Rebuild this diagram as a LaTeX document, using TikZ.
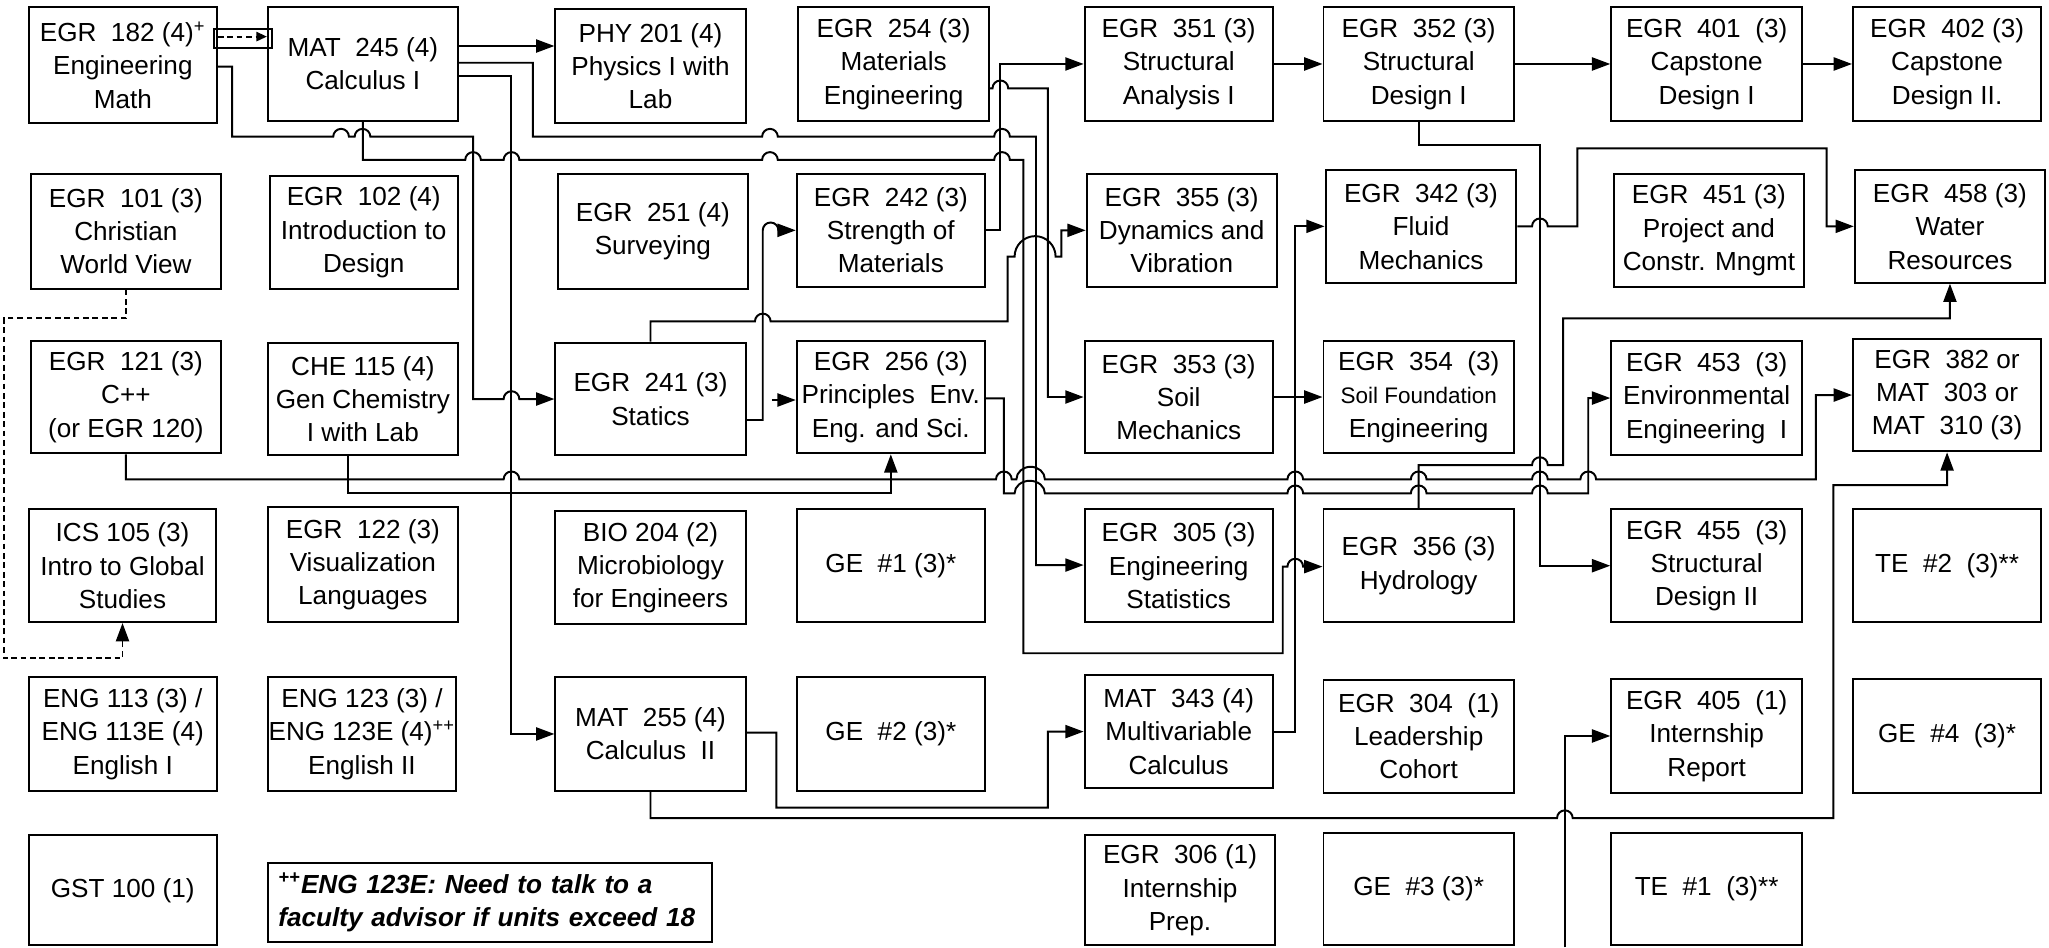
\documentclass[tikz,border=0pt]{standalone}
\usepackage{fontspec}
\setmainfont{Liberation Sans}
\usetikzlibrary{arrows.meta}
\newcommand\hop[2]{-- ({#1-6},#2) arc[start angle=180,end angle=0,radius=3pt]}
\newcommand\bx[6]{\node[box,minimum width={(#4-#2)*0.5pt},minimum height={(#5-#3)*0.5pt}] (#1) at ({(#2+#4)/2},{(#3+#5)/2}) {#6};}
\tikzset{
  box/.style={draw, line width=0.75pt, align=center, inner sep=0pt, font=\fontsize{10}{12.75}\selectfont},
  ln/.style={line width=0.75pt},
  arr/.style={ln, -{Triangle[length=7pt,width=5pt]}},
  dsh/.style={ln, dash pattern=on 2.2pt off 1.4pt},
}
\begin{document}
\begin{tikzpicture}[x=0.5pt,y=-0.5pt]
\useasboundingbox (0,0) rectangle (1568,725);
% row 1
\bx{e182}{22}{5.6}{166}{93.9}{EGR~~182 (4)\textsuperscript{+}\\Engineering\\Math}
\bx{m245}{205}{5.6}{350.4}{92.3}{MAT~~245 (4)\\Calculus I}
\bx{p201}{425}{7.1}{570.6}{93.9}{PHY 201 (4)\\Physics I with\\Lab}
\bx{e254}{611}{5.6}{756.7}{92.3}{EGR~~254 (3)\\Materials\\Engineering}
\bx{e351}{830}{5.6}{974}{92.3}{EGR~~351 (3)\\Structural\\Analysis I}
\bx{e352}{1012.8}{5.6}{1158.5}{92.3}{EGR~~352 (3)\\Structural\\Design I}
\bx{e401}{1233}{5.6}{1379}{92.3}{EGR~~401~~(3)\\Capstone\\Design I}
\bx{e402}{1418}{5.6}{1562}{92.3}{EGR~~402 (3)\\Capstone\\Design II.}
% row 2
\bx{e101}{23.8}{133.1}{168.9}{220.9}{EGR~~101 (3)\\Christian\\World View}
\bx{e102}{206.3}{134.7}{350.4}{220.9}{EGR~~102 (4)\\Introduction to\\Design}
\bx{e251}{426.9}{133.1}{572.3}{220.9}{EGR~~251 (4)\\Surveying}
\bx{e242}{609.7}{133.1}{753.7}{219.4}{EGR~~242 (3)\\Strength of\\Materials}
\bx{e355}{831.6}{133.1}{977}{219.4}{EGR~~355 (3)\\Dynamics and\\Vibration}
\bx{e342}{1014.4}{130.1}{1160.4}{216.3}{EGR~~342 (3)\\Fluid\\Mechanics}
\bx{e451}{1235}{133.1}{1380.5}{219.4}{EGR~~451 (3)\\Project and\\Constr. Mngmt}
\bx{e458}{1419.4}{130.1}{1565}{216.3}{EGR~~458 (3)\\Water\\Resources}
% row 3
\bx{e121}{23.8}{260.7}{168.9}{346.9}{EGR~~121 (3)\\C++\\(or EGR 120)}
\bx{c115}{205}{262.2}{350.4}{348.5}{CHE 115 (4)\\Gen Chemistry\\I with Lab}
\bx{e241}{425}{262.2}{570.6}{348.5}{EGR~~241 (3)\\Statics}
\bx{e256}{609.7}{260.7}{753.7}{346.9}{EGR~~256 (3)\\Principles~~Env.\\Eng. and Sci.}
\bx{e353}{830}{260.7}{974}{346.9}{EGR~~353 (3)\\Soil\\Mechanics}
\bx{e354}{1012.8}{260.7}{1158.5}{346.9}{EGR~~354~~(3)\\{\fontsize{8.6}{10}\selectfont Soil Foundation}\\Engineering}
\bx{e453}{1233}{260.7}{1379}{348.5}{EGR~~453~~(3)\\Environmental\\Engineering~~I}
\bx{e382}{1418}{259.2}{1562}{345.4}{EGR~~382 or\\MAT~~303 or\\MAT~~310 (3)}
% row 4
\bx{i105}{21.9}{389.8}{165.6}{476}{ICS 105 (3)\\Intro to Global\\Studies}
\bx{e122}{205}{388.2}{350.4}{476}{EGR~~122 (3)\\Visualization\\Languages}
\bx{b204}{425}{391.3}{570.6}{477.5}{BIO 204 (2)\\Microbiology\\for Engineers}
\bx{ge1}{609.7}{389.8}{753.7}{476}{GE~~\#1 (3)*}
\bx{e305}{830}{389.8}{974}{476}{EGR~~305 (3)\\Engineering\\Statistics}
\bx{e356}{1012.8}{389.8}{1158.5}{476}{EGR~~356 (3)\\Hydrology}
\bx{e455}{1233}{389.8}{1379}{476}{EGR~~455~~(3)\\Structural\\Design II}
\bx{te2}{1418}{389.8}{1562}{476}{TE~~\#2~~(3)**}
% row 5
\bx{n113}{21.9}{518.3}{165.9}{605}{ENG 113 (3) /\\ENG 113E (4)\\English I}
\bx{n123}{205}{518.3}{349}{605}{ENG 123 (3) /\\ENG 123E (4)\textsuperscript{++}\\English II}
\bx{m255}{425}{518.3}{570.6}{605}{MAT~~255 (4)\\Calculus~~II}
\bx{ge2}{609.7}{518.3}{753.7}{605}{GE~~\#2 (3)*}
\bx{m343}{830}{516.5}{974}{603.2}{MAT~~343 (4)\\Multivariable\\Calculus}
\bx{e304}{1012.8}{520.3}{1158.5}{606.6}{EGR~~304~~(1)\\Leadership\\Cohort}
\bx{e405}{1233}{519.8}{1379}{606.6}{EGR~~405~~(1)\\Internship\\Report}
\bx{ge4}{1418}{519.8}{1562}{606.6}{GE~~\#4~~(3)*}
% row 6
\bx{g100}{21.9}{639.2}{165.9}{723.5}{GST 100 (1)}
\bx{e306}{830}{639.2}{976}{723.5}{EGR~~306 (1)\\Internship\\Prep.}
\bx{ge3}{1012.8}{637.1}{1158.5}{723.5}{GE~~\#3 (3)*}
\bx{te1}{1233}{637.1}{1379}{723.5}{TE~~\#1~~(3)**}
\node[box, align=left, text width=161.85pt, inner xsep=4pt, minimum height=30.35pt, font=\fontsize{10}{12.5}\selectfont\bfseries\itshape] (note) at (374.85,690.45) {\textsuperscript{++}ENG 123E: Need to talk to a\\faculty advisor if units exceed 18};
% small frame round the dashed arrow
\node[draw, line width=0.75pt, minimum width=22.15pt, minimum height=7.55pt, inner sep=0pt] (dbox) at (186.15,29.45) {};
\draw[dsh,-{Triangle[length=4pt,width=3.5pt]}] (e182.east |- 0,28) -- (m245.west |- 0,28);
% connectors
\draw[arr] (m245.east |- 0,35.2) -- (p201.west |- 0,35.2);
\draw[arr] (m245.east |- 0,48) -- (407.8,48) -- (407.8,104.6) \hop{589.2}{104.6} \hop{766.8}{104.6} -- (792.8,104.6) -- (792.8,432.4) -- (e305.west |- 0,432.4);
\draw[arr] (m245.east |- 0,58.2) -- (391.4,58.2) -- (391.4,561.65) -- (m255.west);
\draw[arr] (e182.east |- 0,51) -- (177.6,51) -- (177.6,104.6) \hop{261}{104.6} \hop{277.4}{104.6} -- (362,104.6) -- (362,305.35) \hop{391.4}{305.35} -- (e241.west);
\draw[arr] (m245.south) -- (m245.south |- 0,122.4) \hop{362}{122.4} \hop{391.4}{122.4} \hop{589.2}{122.4} \hop{766.8}{122.4} -- (783.2,122.4) -- (783.2,499.9) -- (981.6,499.9) -- (981.6,433.6) \hop{991.2}{433.6} -- (e356.west |- 0,433.6);
\draw[arr] (e254.east |- 0,67.6) \hop{765.5}{67.6} -- (801.8,67.6) -- (801.8,303.8) -- (e353.west);
\draw[arr] (e242.east) -- (765.5,176.25) -- (765.5,48.95) -- (e351.west);
\draw[arr] (e241.east |- 0,321.4) -- (583.7,321.4) -- (583.7,176.25) arc[start angle=180,end angle=0,radius=3pt] -- (e242.west);
\draw[arr] (e241.north) -- (e241.north |- 0,246) \hop{583.7}{246} -- (771,246) -- (771,196.4) -- (776.4,196.4) arc[start angle=180,end angle=0,radius=7.85pt] -- (812.2,196.4) -- (812.2,176.25) -- (e355.west);
\coordinate (s256) at (590.6,306.1);
\draw[arr] (s256) -- (e256.west |- s256);
\draw[arr] (c115.south -| 266.5,0) -- (266.5,377.5) -- (e256.south |- 0,377.5) -- (e256.south);
\draw[arr] (e256.east |- 0,304.8) -- (768.2,304.8) -- (768.2,377.5) -- (776.4,377.5) arc[start angle=180,end angle=0,x radius=5.8pt,y radius=4.8pt] \hop{991.2}{377.5} \hop{1085.65}{377.5} \hop{1178.4}{377.5} -- (1215.4,377.5) -- (1215.4,304.6) -- (e453.west);
\draw[arr] (e121.south) -- (e121.south |- 0,366.8) \hop{391.4}{366.8} \hop{768.2}{366.8} -- (777.8,366.8) arc[start angle=180,end angle=0,x radius=5.45pt,y radius=4.8pt] \hop{991.2}{366.8} \hop{1085.65}{366.8} \hop{1178.4}{366.8} \hop{1215.4}{366.8} -- (1389.6,366.8) -- (1389.6,302.3) -- (e382.west);
\draw[arr] (e352.south) -- (e352.south |- 0,111) -- (1178.4,111) -- (1178.4,432.9) -- (e455.west);
\draw[arr] (e342.east) \hop{1178.4}{173.2} -- (1207,173.2) -- (1207,113.5) -- (1397.8,113.5) -- (1397.8,173.2) -- (e458.west);
\draw[arr] (m343.east) -- (m343.east -| 991.2,0) -- (991.2,173.2) -- (e342.west);
\draw[arr] (e353.east) -- (e354.west);
\draw[arr] (e356.north) -- (e356.north |- 0,355.9) \hop{1178.4}{355.9} -- (1196.2,355.9) -- (1196.2,243.6) -- (e458.south |- 0,243.6) -- (e458.south);
\draw[arr] (e351.east) -- (e352.west);
\draw[arr] (e352.east) -- (e401.west);
\draw[arr] (e401.east) -- (e402.west);
\draw[arr] (m255.east |- 0,560.6) -- (594.1,560.6) -- (594.1,618) -- (801.8,618) -- (801.8,559.85) -- (m343.west);
\draw[arr] (m255.south) -- (m255.south |- 0,626.1) \hop{1197.5}{626.1} -- (1402.9,626.1) -- (1402.9,371.2) -- (e382.south |- 0,371.2) -- (e382.south);
\coordinate (b405) at (1197.5,725);
\draw[arr] (b405) -- (1197.5,563.2) -- (e405.west);
\draw[dsh,-{Triangle[length=7pt,width=5pt]}] (e101.south) -- (e101.south |- 0,243.6) -- (2.7,243.6) -- (2.7,503.7) -- (i105.south |- 0,503.7) -- (i105.south);
\end{tikzpicture}
\end{document}
